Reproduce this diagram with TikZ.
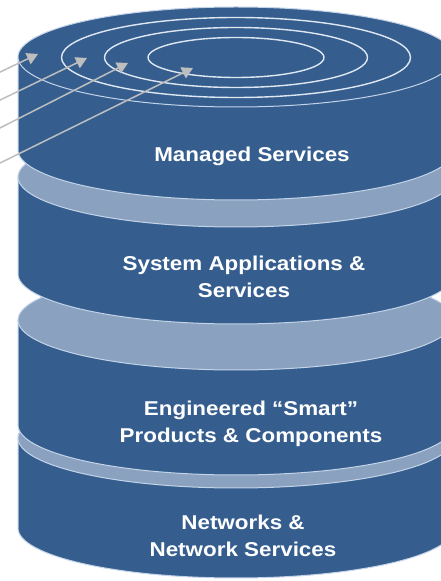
\documentclass[tikz,border=0pt]{standalone}
\usepackage{fontspec}
\newfontfamily\lblfont[FakeStretch=1.12]{Liberation Sans}
\usetikzlibrary{arrows.meta}
\definecolor{slabdark}{RGB}{53,94,143}
\definecolor{slablight}{RGB}{138,162,192}
\definecolor{rimc}{RGB}{196,212,232}
\definecolor{ringc}{RGB}{222,231,242}
\definecolor{arrowgray}{RGB}{190,190,190}
\tikzset{
  side/.style={fill=slabdark, draw=rimc, line width=1pt},
  face/.style={draw=rimc, line width=1pt},
  ring/.style={draw=ringc, line width=1.4pt},
  lbl/.style={text=white, font=\lblfont\bfseries\fontsize{20}{27}\selectfont, align=center, inner sep=0pt},
  arr/.style={draw=arrowgray, line width=1.5pt, -{Triangle[length=11pt,width=12pt]}}
}
\newcommand\drawslab[3]{%
  \path[side] (18,#1) -- (18,#2) arc[start angle=180,end angle=360,x radius=218pt,y radius=50pt] -- (454,#1) -- cycle;
  \path[face, fill=#3] (236,#1) ellipse[x radius=218pt,y radius=50pt];
}
\begin{document}
\begin{tikzpicture}[x=1pt,y=1pt]
\useasboundingbox (0,0) rectangle (441,581);
\clip (0,0) rectangle (441,581);
\fill[white] (0,0) rectangle (441,581);
\drawslab{143}{53}{slablight}
\drawslab{261}{156}{slablight}
\drawslab{404}{307}{slablight}
\drawslab{524}{431}{slabdark}
\draw[ring] (236,523.5) ellipse[x radius=88pt,y radius=20pt];
\draw[ring] (236,523.5) ellipse[x radius=131.5pt,y radius=30pt];
\draw[ring] (236,523.5) ellipse[x radius=174.5pt,y radius=40pt];
\node[lbl, anchor=base] (ms) at (252,419) {Managed Services};
\node[lbl] (sa) at (244,303.7) {System Applications \&\\Services};
\node[lbl] (es) at (251,156.7) {Engineered “Smart”\\Products \& Components};
\node[lbl] (nw) at (243,44.7) {Networks \&\\Network Services};
\coordinate (s1) at (-4,507);
\coordinate (t1) at (38,527);
\coordinate (s2) at (-4,479);
\coordinate (t2) at (87,523);
\coordinate (s3) at (-4,451);
\coordinate (t3) at (128,518);
\coordinate (s4) at (-4,416);
\coordinate (t4) at (193,513);
\draw[arr] (s1) -- (t1);
\draw[arr] (s2) -- (t2);
\draw[arr] (s3) -- (t3);
\draw[arr] (s4) -- (t4);
\end{tikzpicture}
\end{document}
